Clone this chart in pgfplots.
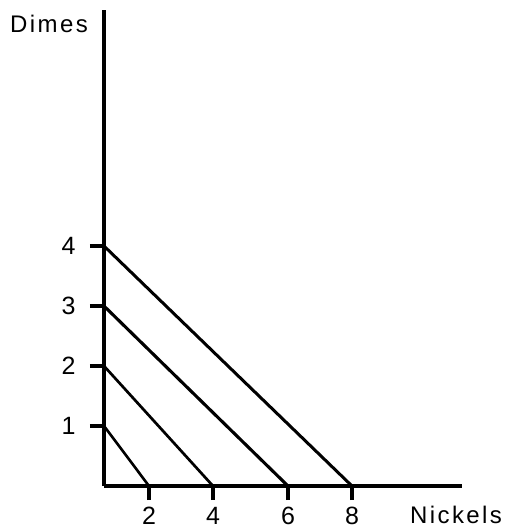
\documentclass[border=0pt]{standalone}
\usepackage{fontspec}
\setmainfont{Liberation Sans}
\newfontfamily\lbl{Liberation Sans}[LetterSpace=10]
\usepackage{pgfplots}
\pgfplotsset{compat=1.18}
\begin{document}
\begin{tikzpicture}[x=1pt,y=1pt]
\useasboundingbox (0,0) rectangle (510,531);
\begin{axis}[
  at={(104pt,45pt)}, anchor=south west,
  x coord trafo/.code={\pgfmathparse{(#1<=2) ? 22.5*#1 : ((#1<=4) ? 45+32*(#1-2) : ((#1<=6) ? 109+37.5*(#1-4) : 184+32*(#1-6)))}},
  x=1pt, y=60pt,
  xmin=0, xmax=11.4375, ymin=0, ymax=7.933,
  axis lines=left,
  axis line style={line width=3.3pt, -},
  xtick={2,4,6,8}, xticklabels={2,4,6,8},
  ytick={1,2,3,4}, yticklabels={1,2,3,4},
  tick style={line width=3.8pt, black},
  tick align=outside, major tick length=14pt,
  tick label style={font=\fontsize{25}{25}\selectfont},
  yticklabel style={anchor=east, xshift=-11pt},
  xticklabel style={anchor=north, yshift=-4pt},
  /pgf/number format/assume math mode=true,
  clip=false,
]
\addplot[line width=2.6pt] coordinates {(0,1) (2,0)};
\addplot[line width=2.7pt] coordinates {(0,2) (4,0)};
\addplot[line width=3.1pt] coordinates {(0,3) (6,0)};
\addplot[line width=3.0pt] coordinates {(0,4) (8,0)};
\end{axis}
\node[anchor=base west, inner sep=0pt, font=\fontsize{24}{24}\selectfont] at (10,498) {\lbl Dimes};
\node[anchor=base west, inner sep=0pt, font=\fontsize{24}{24}\selectfont] at (410,8) {\lbl Nickels};
\end{tikzpicture}
\end{document}
